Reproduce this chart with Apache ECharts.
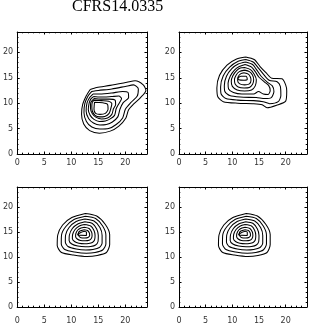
<!DOCTYPE html>
<html><head><meta charset="utf-8">
<script src="https://cdn.jsdelivr.net/npm/echarts@6/dist/echarts.min.js"></script>
<style>html,body{margin:0;padding:0;background:#fff}#c{width:327px;height:327px}</style>
</head><body><div id="c"></div>
<script>
const titleText = 'CFRS14.0335';
const tickLabels = [0, 5, 10, 15, 20];
const axisMin = 0, axisMax = 24;

// Top-left panel contours (x, y)
const tl1 = [[13.5,12.7],[14.7,13.1],[17.2,13.5],[20.3,14.1],[21.8,14.4],[23.3,13.6],[23.8,12.5],[22.8,11.1],[21.5,9.8],[20.6,8.7],[20.1,7.1],[18.8,5.5],[17.2,4.5],[15.2,4.1],[13.4,4.6],[12.3,5.9],[11.9,7.8],[12.1,9.7],[12.8,11.5]];
const tl2 = [[13.8,12.3],[15.0,12.5],[17.5,12.8],[20.0,13.3],[21.5,13.6],[22.4,12.8],[22.2,11.4],[21.0,10.1],[20.0,8.8],[19.5,7.1],[18.3,5.8],[16.9,5.0],[15.3,4.9],[13.8,5.3],[12.8,6.4],[12.35,8.1],[12.5,9.9],[13.1,11.4]];
const tl3 = [[14.0,11.8],[15.3,11.8],[17.5,12.0],[19.5,12.3],[20.5,12.1],[20.6,11.1],[19.6,10.1],[19.0,8.8],[18.6,7.3],[17.6,6.3],[16.5,5.8],[15.3,5.7],[14.1,6.1],[13.2,7.0],[12.75,8.4],[12.9,10.0],[13.4,11.1]];
const tl4 = [[14.1,11.3],[15.4,11.2],[17.4,11.3],[18.8,11.4],[19.3,10.9],[18.8,9.9],[18.3,8.9],[18.0,7.6],[17.2,6.9],[16.3,6.5],[15.2,6.4],[14.2,6.8],[13.5,7.6],[13.15,8.7],[13.3,10.0],[13.6,10.8]];
const tl5 = [[14.2,10.9],[15.5,10.8],[17.0,10.8],[18.1,10.6],[18.2,9.7],[17.8,8.9],[17.5,7.8],[16.7,7.1],[15.6,6.9],[14.6,7.2],[13.9,7.9],[13.55,9.0],[13.6,10.1]];
const tl6 = [[14.2,10.6],[15.6,10.5],[16.9,10.4],[17.5,9.9],[17.3,8.9],[17.0,8.0],[16.2,7.4],[15.2,7.3],[14.4,7.6],[13.9,8.4],[13.8,9.4],[13.9,10.2]];
const tl7 = [[14.3,10.2],[15.8,10.1],[16.7,9.8],[16.8,8.8],[16.3,8.0],[15.3,7.8],[14.5,8.0],[14.2,8.8]];

// Top-right panel contours
const tr1 = [[12.5,19.1],[14.1,18.6],[15.2,17.2],[16.3,16.0],[17.4,14.9],[19.3,14.8],[20.0,13.6],[20.2,12.4],[20.0,10.4],[18.3,9.6],[16.5,9.1],[15.6,9.7],[14.0,9.9],[11.0,10.0],[8.3,10.3],[7.3,11.2],[7.1,13.0],[7.6,15.5],[9.0,17.5],[10.8,18.7]];
const tr2 = [[12.5,18.6],[13.9,18.1],[14.9,16.9],[15.9,15.6],[16.9,14.5],[18.4,14.2],[19.0,13.3],[19.1,11.5],[18.6,10.3],[17.0,9.9],[15.8,10.3],[14.0,10.5],[11.0,10.6],[8.8,10.9],[7.9,11.8],[7.8,13.2],[8.3,15.4],[9.5,17.1],[11.0,18.2]];
const tr3 = [[12.5,18.1],[13.8,17.6],[14.6,16.5],[15.4,15.3],[16.6,14.1],[17.5,13.4],[17.8,12.3],[17.3,11.1],[16.1,10.9],[14.5,11.1],[11.5,11.2],[9.5,11.5],[8.6,12.3],[8.5,13.5],[8.9,15.3],[9.9,16.8],[11.1,17.7]];
const tr4 = [[12.4,17.6],[13.6,17.1],[14.3,16.2],[15.0,15.1],[16.0,14.2],[16.8,13.5],[17.1,12.5],[16.7,11.7],[15.8,11.8],[14.9,12.3],[14.0,11.8],[11.8,11.8],[10.2,12.1],[9.3,12.8],[9.2,13.9],[9.6,15.3],[10.4,16.5],[11.3,17.2]];
const tr5 = [[12.3,17.0],[13.4,16.6],[14.1,15.7],[14.5,14.6],[14.3,13.4],[13.6,12.6],[12.3,12.4],[10.9,12.6],[10.0,13.3],[9.8,14.3],[10.1,15.4],[10.8,16.4],[11.5,16.9]];
const tr6 = [[12.3,16.5],[13.2,16.2],[13.8,15.5],[14.0,14.6],[13.8,13.7],[13.2,13.1],[12.2,13.0],[11.1,13.2],[10.5,13.8],[10.4,14.6],[10.7,15.5],[11.3,16.2]];
const tr7 = [[12.2,16.0],[13.0,15.7],[13.4,15.1],[13.5,14.5],[13.2,13.8],[12.3,13.6],[11.4,13.8],[11.0,14.4],[11.1,15.2],[11.6,15.8]];
const tr8 = [[11.0,14.9],[11.6,15.3],[12.6,15.3],[12.8,14.7],[12.2,14.5],[11.2,14.6]];

// Bottom panels contours (both panels look the same)
const b1 = [[12.6,18.7],[14.7,18.2],[16.3,16.5],[17.1,14.5],[17.1,12.5],[16.5,10.9],[14.8,10.3],[12.9,10.1],[10.4,10.4],[8.2,10.9],[7.4,12.3],[7.5,14.4],[8.4,16.4],[10.1,17.9]];
const b2 = [[12.6,18.15],[14.5,17.7],[15.8,16.2],[16.4,14.4],[16.4,12.6],[15.8,11.4],[14.4,10.9],[12.8,10.75],[10.6,11.0],[8.8,11.5],[8.15,12.6],[8.2,14.4],[9.0,16.1],[10.5,17.5]];
const b3 = [[12.5,17.6],[14.2,17.2],[15.3,15.9],[15.7,14.3],[15.7,12.8],[15.2,11.9],[14.0,11.5],[12.7,11.4],[10.9,11.6],[9.4,12.1],[8.9,13.0],[8.95,14.4],[9.6,15.9],[10.9,17.1]];
const b4 = [[12.5,17.05],[13.9,16.7],[14.7,15.6],[15.0,14.3],[14.95,13.1],[14.5,12.4],[13.6,12.1],[12.6,12.05],[11.2,12.2],[10.1,12.6],[9.6,13.3],[9.65,14.4],[10.2,15.7],[11.2,16.6]];
const b5 = [[12.4,16.5],[13.6,16.2],[14.2,15.3],[14.4,14.3],[14.3,13.4],[13.9,12.9],[13.2,12.7],[12.5,12.65],[11.4,12.75],[10.6,13.1],[10.2,13.7],[10.25,14.5],[10.7,15.5],[11.5,16.2]];
const b6 = [[12.4,15.95],[13.3,15.7],[13.75,15.0],[13.85,14.3],[13.7,13.7],[13.3,13.35],[12.6,13.25],[11.7,13.3],[11.1,13.6],[10.8,14.1],[10.85,14.7],[11.2,15.4],[11.8,15.8]];
const b7 = [[12.4,15.45],[13.0,15.3],[13.35,14.8],[13.4,14.3],[13.1,13.9],[12.5,13.8],[11.8,13.85],[11.4,14.2],[11.3,14.7],[11.6,15.2]];
const b8 = [[11.1,14.5],[12.3,15.1],[12.8,15.0],[12.8,14.3],[11.1,14.4]];

const panelContours = [
  [tl1, tl2, tl3, tl4, tl5, tl6, tl7],
  [tr1, tr2, tr3, tr4, tr5, tr6, tr7, tr8],
  [b1, b2, b3, b4, b5, b6, b7, b8],
  [b1, b2, b3, b4, b5, b6, b7, b8]
];

const grids = [
  {left: 17, top: 32, width: 130, height: 122, xm: 5},
  {left: 179, top: 32, width: 128, height: 122, xm: 5},
  {left: 17, top: 187, width: 130, height: 120, xm: 10},
  {left: 179, top: 187, width: 128, height: 120, xm: 10}
];

const chart = echarts.init(document.getElementById('c'), null, {renderer: 'canvas'});
const xAxes = [], yAxes = [], series = [];
const lineC = '#000';
grids.forEach((g, i) => {
  const fmt = v => tickLabels.includes(v) ? String(v) : '';
  const mk = (pos, isX, withLabel) => ({
    type: 'value', gridIndex: i, position: pos, min: axisMin, max: axisMax,
    interval: 5,
    axisLine: {show: true, onZero: false, lineStyle: {color: lineC, width: 1}},
    axisTick: {show: true, inside: true, length: 2.5, lineStyle: {color: lineC, width: 1}},
    minorTick: {show: true, splitNumber: 5, length: 1.3, lineStyle: {color: lineC, width: 1}},
    axisLabel: withLabel ? {show: true, formatter: fmt, showMaxLabel: false, fontSize: 8, color: '#333', fontFamily: 'DejaVu Sans', margin: isX ? g.xm : 4} : {show: false},
    splitLine: {show: false}, minorSplitLine: {show: false}
  });
  const base = xAxes.length;
  xAxes.push(mk('bottom', true, true), mk('top', true, false));
  yAxes.push(mk('left', false, true), mk('right', false, false));
  panelContours[i].forEach(c => {
    series.push({
      type: 'line', xAxisIndex: base, yAxisIndex: base,
      data: c.concat([c[0]]), showSymbol: false, symbol: 'none', smooth: 0.25,
      lineStyle: {color: lineC, width: 1.05}, clip: true, animation: false, silent: true
    });
  });
});

chart.setOption({
  animation: false,
  backgroundColor: '#fff',
  title: {text: titleText, left: 67, top: -6, textStyle: {fontFamily: 'Liberation Serif', fontWeight: 'normal', fontSize: 16, color: '#000'}},
  grid: grids.map(g => ({left: g.left, top: g.top, width: g.width, height: g.height, containLabel: false})),
  xAxis: xAxes, yAxis: yAxes, series: series
});
</script></body></html>
